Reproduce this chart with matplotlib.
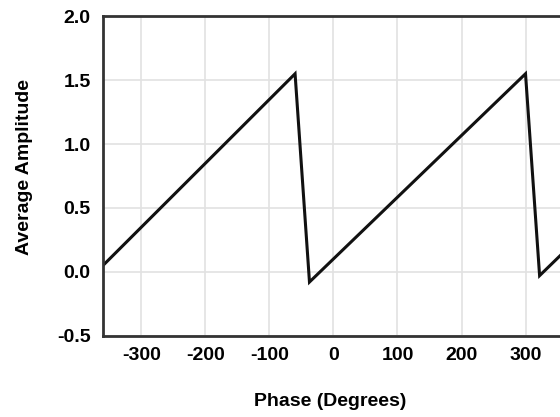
import matplotlib
matplotlib.use("Agg")
import matplotlib.pyplot as plt

# sawtooth corner points (phase in degrees, average amplitude)
phase = [-360, -60, -37.5, 300, 322, 360]
amplitude = [0.05, 1.55, -0.08, 1.55, -0.03, 0.155]

x_ticks = [-300, -200, -100, 0, 100, 200, 300]
y_ticks = [-0.5, 0.0, 0.5, 1.0, 1.5, 2.0]

plt.rcParams['font.family'] = ['Liberation Sans', 'DejaVu Sans']
plt.rcParams['font.weight'] = 'bold'

fig = plt.figure(figsize=(5.6, 4.17), dpi=100)
ax = fig.add_axes([0.184, 0.195, 0.823, 0.766])

ax.plot(phase, amplitude, color="#111111", linewidth=2.2, solid_joinstyle="miter")

ax.set_xlim(-360, 360)
ax.set_ylim(-0.5, 2.0)
ax.set_xticks(x_ticks)
ax.set_yticks(y_ticks)
ax.set_yticklabels([f"{v:.1f}" for v in y_ticks])
ax.set_xticklabels([str(v) for v in x_ticks])
ax.tick_params(length=0, labelsize=14)
ax.tick_params(axis="x", pad=8)
ax.tick_params(axis="y", pad=9)

ax.grid(True, color="#e2e2e2", linewidth=1.2)
ax.set_axisbelow(True)
for side in ["left", "top", "bottom", "right"]:
    ax.spines[side].set_color("#333333")
    ax.spines[side].set_linewidth(2)

ax.set_xlabel("Phase (Degrees)", fontsize=14, fontweight="bold")
ax.set_ylabel("Average Amplitude", fontsize=14, fontweight="bold")
ax.xaxis.set_label_coords(0.493, -0.178)
ax.yaxis.set_label_coords(-0.152, 0.527)

fig.savefig("out.png", dpi=100)
